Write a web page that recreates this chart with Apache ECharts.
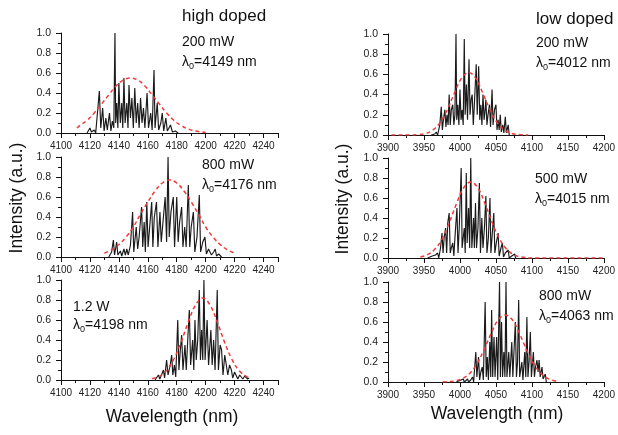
<!DOCTYPE html>
<html><head><meta charset="utf-8">
<script src="https://cdn.jsdelivr.net/npm/echarts@6/dist/echarts.min.js"></script>
<style>html,body{margin:0;padding:0;background:#fff}#c{width:618px;height:435px}</style>
</head><body><div id="c"></div>
<script>
// ---------- tick labels ----------
const highTicks = [4100, 4120, 4140, 4160, 4180, 4200, 4220, 4240];
const lowTicks = [3900, 3950, 4000, 4050, 4100, 4150, 4200];
const yTicks = [0.0, 0.2, 0.4, 0.6, 0.8, 1.0];

// ---------- high doped, 200 mW ----------
const hd200Wl = [4118,4120,4121,4123,4124,4126.5,4127.5,4128.8,4129.8,4131,4132,4133.5,4134.5,4135.5,4136.5,4137.3,4137.8,4138.5,4139.3,4140,4141,4142,4142.7,4143.5,4144.3,4145.5,4146.3,4147,4148,4149,4150,4151,4152,4153,4154,4155,4156,4157,4158,4159.5,4160.5,4162,4163,4164.3,4165,4166.5,4167.5,4169,4170,4171,4172.5,4173.5,4175.7,4177,4179,4181];
const hd200Int = [0,0.05,0.01,0.03,0.0,0.42,0.05,0.25,0.02,0.15,0.03,0.2,0.02,0.12,0.05,1.0,0.1,0.3,0.05,0.5,0.1,0.3,0.05,0.55,0.1,0.3,0.05,0.48,0.15,0.35,0.05,0.45,0.1,0.3,0.05,0.35,0.1,0.25,0.05,0.4,0.05,0.2,0.03,0.63,0.05,0.3,0.03,0.1,0.2,0.02,0.15,0.02,0.08,0.01,0.02,0.0];
const hd200FitWl = [4111,4113,4118,4123,4128,4133,4138,4143,4148,4153,4158,4163,4168,4173,4178,4183,4188,4193,4200];
const hd200FitInt = [0.05,0.074,0.127,0.20,0.29,0.38,0.47,0.53,0.55,0.53,0.47,0.38,0.29,0.20,0.127,0.074,0.04,0.02,0.005];

// ---------- high doped, 800 mW ----------
const hd800Wl = [4133,4135,4136.2,4137,4138.5,4139.3,4141,4142,4143.5,4144.5,4145.5,4146.5,4148,4149.5,4150.3,4152,4153,4154,4155.7,4156.5,4157.5,4158.3,4159.3,4160.2,4161.3,4162.7,4163.5,4164.5,4166,4167,4168.4,4169.3,4170.5,4172,4173,4174,4174.8,4176,4177.6,4178.5,4180,4181,4182,4183.4,4184.3,4185.5,4186.5,4188,4189,4190,4191.5,4192.5,4194,4195.6,4196.5,4198,4199.5,4200.5,4202,4203,4204,4205.5,4206.6,4207.5,4209,4210,4211];
const hd800Int = [0,0.05,0.17,0.02,0.15,0.02,0.06,0.01,0.08,0.02,0.08,0.02,0.12,0.45,0.05,0.3,0.08,0.2,0.5,0.1,0.35,0.05,0.55,0.1,0.3,0.55,0.1,0.4,0.55,0.1,0.45,0.15,0.35,0.6,0.15,1.0,0.2,0.45,0.6,0.1,0.6,0.15,0.35,0.5,0.1,0.3,0.1,0.72,0.1,0.3,0.45,0.05,0.2,0.62,0.05,0.15,0.2,0.03,0.08,0.1,0.02,0.05,0.08,0.01,0.03,0.03,0.0];
const hd800FitWl = [4130,4135,4140,4145,4150,4155,4160,4165,4170,4175,4180,4185,4190,4195,4200,4205,4210,4215,4220];
const hd800FitInt = [0.038,0.072,0.125,0.20,0.30,0.43,0.55,0.66,0.74,0.77,0.74,0.66,0.55,0.43,0.30,0.20,0.125,0.072,0.038];

// ---------- high doped, 1.2 W ----------
const hd1200Wl = [4165,4167.3,4168.3,4170.8,4171.6,4173,4174,4175.5,4176.5,4177.3,4178.4,4179.3,4180.7,4181.5,4182.5,4183.4,4184.3,4185.7,4186.6,4187.6,4188.7,4189.6,4191,4191.8,4192.6,4193.5,4194.5,4195.6,4196.4,4197.2,4198,4198.8,4199.6,4201,4202,4203.6,4204.5,4205.5,4206.5,4208,4208.8,4210,4211,4212,4213.2,4214.4,4215.3,4216.5,4217.8,4218.7,4220,4221.3,4222.2,4223.5,4224.7,4225.7,4227,4228,4229,4230];
const hd1200Int = [0,0.05,0.01,0.1,0.02,0.2,0.05,0.15,0.25,0.05,0.15,0.03,0.6,0.1,0.3,0.45,0.1,0.35,0.1,0.4,0.7,0.15,0.4,0.1,0.6,0.2,0.4,0.9,0.2,0.5,0.2,1.0,0.2,0.6,0.15,0.5,0.15,0.4,0.1,0.9,0.1,0.35,0.3,0.05,0.25,0.25,0.05,0.15,0.1,0.02,0.08,0.08,0.01,0.05,0.05,0.01,0.04,0.05,0.01,0.02];
const hd1200FitWl = [4163,4168,4173,4178,4183,4188,4193,4198,4203,4208,4213,4218,4223,4228,4230];
const hd1200FitInt = [0.012,0.037,0.095,0.21,0.38,0.58,0.75,0.82,0.75,0.58,0.38,0.21,0.095,0.037,0.025];

// ---------- low doped, 200 mW ----------
const ld200Wl = [3960,3965,3967,3969,3972,3974,3975.5,3977,3979,3980.5,3982,3983.5,3985,3986.5,3988,3990,3991.5,3993,3994.5,3995.5,3997,3998.5,4000,4001.5,4003,4004.5,4006,4007.2,4009,4010.5,4012.6,4014,4015.5,4017,4018.5,4020,4022.6,4024,4026,4027.5,4029,4030.5,4032,4033.5,4035,4036,4037.5,4039,4041,4042.5,4044.6,4046,4048,4050,4051.5,4053,4054.5,4056,4057.5,4059.5,4061,4063,4064.5,4067,4068.5];
const ld200Int = [0,0.01,0.03,0.0,0.1,0.28,0.05,0.15,0.25,0.08,0.2,0.1,0.4,0.1,0.25,0.3,0.1,0.2,1.0,0.15,0.3,0.1,0.45,0.15,0.25,0.1,0.95,0.2,0.5,0.15,0.75,0.2,0.35,0.4,0.1,0.3,0.7,0.2,0.68,0.15,0.3,0.1,0.4,0.15,0.25,0.35,0.1,0.2,0.3,0.08,0.45,0.1,0.25,0.3,0.05,0.15,0.05,0.2,0.03,0.1,0.02,0.18,0.02,0.1,0.0];
const ld200FitWl = [3905,3932,3942,3952,3962,3972,3982,3992,4002,4012,4022,4032,4042,4052,4062,4072,4082,4095];
const ld200FitInt = [0.0,0.001,0.004,0.015,0.047,0.12,0.245,0.41,0.56,0.62,0.56,0.41,0.245,0.12,0.047,0.015,0.004,0.0];

// ---------- low doped, 500 mW ----------
const ld500Wl = [3955,3961.5,3963,3966,3969,3970.5,3973,3975,3976.5,3978,3980,3981.5,3983,3985,3986.5,3988,3990,3991.5,3993,3995.8,3997.3,3999,4001.7,4003,4004.5,4006,4007.3,4008.8,4010,4012,4013.5,4015,4016.5,4018.9,4020,4021.6,4023,4025,4027,4028.5,4030.4,4032,4034,4036,4037.5,4039.5,4041.7,4043,4045,4047,4048.5,4050.5,4053,4054.5,4057,4059,4060.5,4063,4067,4068.5,4072,4076,4077.5];
const ld500Int = [0,0.02,0.0,0.03,0.05,0.0,0.1,0.25,0.05,0.2,0.3,0.05,0.35,0.45,0.05,0.1,0.15,0.02,0.2,0.5,0.05,0.3,0.9,0.1,0.2,0.3,0.05,0.85,0.15,0.5,0.1,1.0,0.1,0.4,0.1,0.55,0.1,0.3,0.75,0.05,0.4,0.1,0.3,0.62,0.05,0.2,0.6,0.05,0.25,0.45,0.05,0.15,0.25,0.02,0.1,0.15,0.01,0.05,0.08,0.0,0.02,0.04,0.0];
const ld500FitWl = [3945,3955,3965,3975,3985,3995,4005,4015,4025,4035,4045,4055,4065,4075,4085,4100,4200];
const ld500FitInt = [0.011,0.033,0.087,0.19,0.35,0.54,0.70,0.76,0.70,0.54,0.35,0.19,0.087,0.033,0.01,0.0,0.0];

// ---------- low doped, 800 mW ----------
const ld800Wl = [3995,4004.6,4006,4008,4010.6,4012,4015,4017.5,4019,4022,4023.5,4025.8,4027.3,4029,4031,4032.5,4035,4036.5,4038,4039.5,4041.5,4042.8,4044,4045.5,4047.3,4048.8,4051,4052.5,4055,4056.2,4057.8,4059.2,4061,4062.5,4064,4065.3,4067.8,4069.3,4072,4073.5,4075,4077,4078.5,4080,4081.6,4083,4086,4087.5,4090,4091.5,4093,4094.5,4096,4097.8,4099.3,4102,4103.5,4105,4107,4108.5,4110,4111.5,4114,4115.5,4118.6,4120];
const ld800Int = [0,0.03,0.0,0.02,0.03,0.0,0.02,0.05,0.0,0.3,0.05,0.25,0.02,0.1,0.15,0.02,0.8,0.05,0.25,0.02,0.4,0.05,0.72,0.05,0.45,0.05,0.45,0.02,1.0,0.05,0.6,0.05,0.3,0.05,1.0,0.05,0.3,0.05,0.4,0.05,0.3,0.6,0.05,0.2,0.82,0.05,0.2,0.02,0.3,0.05,0.65,0.05,0.2,0.5,0.05,0.3,0.05,0.15,0.22,0.1,0.22,0.05,0.15,0.03,0.08,0.0];
const ld800FitWl = [3976,3983,3993,4003,4013,4023,4033,4043,4053,4063,4073,4083,4093,4103,4113,4123,4134];
const ld800FitInt = [0.0,0.003,0.011,0.032,0.082,0.175,0.315,0.48,0.62,0.67,0.62,0.48,0.315,0.175,0.082,0.032,0.008];

// ---------- panel annotations ----------
const headings = ['high doped', 'low doped'];
const powers = ['200 mW', '800 mW', '1.2 W', '200 mW', '500 mW', '800 mW'];
const centers = ['4149', '4176', '4198', '4012', '4015', '4063'];
const xTitle = 'Wavelength (nm)';
const yTitle = 'Intensity (a.u.)';

// ---------- layout ----------
const FONT = '"Liberation Sans", Arial, sans-serif';
const spectra = [
  [hd200Wl, hd200Int, hd200FitWl, hd200FitInt],
  [hd800Wl, hd800Int, hd800FitWl, hd800FitInt],
  [hd1200Wl, hd1200Int, hd1200FitWl, hd1200FitInt],
  [ld200Wl, ld200Int, ld200FitWl, ld200FitInt],
  [ld500Wl, ld500Int, ld500FitWl, ld500FitInt],
  [ld800Wl, ld800Int, ld800FitWl, ld800FitInt]
];
const gridBoxes = [
  {left: 61, top: 33, width: 217, height: 100},
  {left: 61, top: 157, width: 217, height: 100},
  {left: 61, top: 280, width: 217, height: 100},
  {left: 388, top: 34, width: 218, height: 101},
  {left: 388, top: 158, width: 218, height: 100},
  {left: 388, top: 282, width: 218, height: 100}
];
const labelPos = [
  [182, 42, 182, 62], [202, 165, 202, 185], [73, 307, 73, 325],
  [536, 43, 536, 63], [535, 179, 535, 199], [539, 296, 539, 316]
];

const zip = (a, b) => a.map((v, i) => [v, b[i]]);
const axisLineStyle = {show: true, lineStyle: {color: '#111', width: 1}};

const grids = [], xAxes = [], yAxes = [], series = [], graphics = [];
gridBoxes.forEach((g, i) => {
  grids.push(Object.assign({containLabel: false}, g));
  const high = i < 3;
  const ticks = high ? highTicks : lowTicks;
  xAxes.push({
    type: 'value', gridIndex: i,
    min: ticks[0], max: high ? 4250 : 4200, interval: ticks[1] - ticks[0],
    axisLine: axisLineStyle,
    axisTick: {show: true, length: 5, lineStyle: {color: '#111'}},
    minorTick: {show: true, splitNumber: 2, length: 3, lineStyle: {color: '#111'}},
    splitLine: {show: false},
    axisLabel: {color: '#222', fontSize: 10, fontFamily: FONT, margin: 8, hideOverlap: false,
      showMinLabel: true, showMaxLabel: !high,
      formatter: v => (ticks.indexOf(v) >= 0 ? String(v) : '')}
  });
  yAxes.push({
    type: 'value', gridIndex: i, min: yTicks[0], max: yTicks[yTicks.length - 1], interval: 0.2,
    axisLine: axisLineStyle,
    axisTick: {show: true, length: 5, lineStyle: {color: '#111'}},
    minorTick: {show: true, splitNumber: 2, length: 3, lineStyle: {color: '#111'}},
    splitLine: {show: false},
    axisLabel: {color: '#222', fontSize: 10.5, fontFamily: FONT, margin: 10, hideOverlap: false,
      showMinLabel: true, showMaxLabel: true, formatter: v => v.toFixed(1)}
  });
  const s = spectra[i];
  series.push({
    type: 'line', xAxisIndex: i, yAxisIndex: i, data: zip(s[0], s[1]),
    showSymbol: false, lineStyle: {color: '#1a1a1a', width: 1.15}, z: 2, animation: false
  });
  series.push({
    type: 'line', xAxisIndex: i, yAxisIndex: i, data: zip(s[2], s[3]), smooth: 0.4,
    showSymbol: false, lineStyle: {color: '#f03a3a', width: 1.5, type: [4, 3]}, z: 3, animation: false
  });
  const p = labelPos[i];
  graphics.push({type: 'text', x: p[0], y: p[1], style: {text: powers[i], fill: '#111',
    font: '14px ' + FONT, verticalAlign: 'middle', align: 'left'}});
  graphics.push({type: 'text', x: p[2], y: p[3], style: {
    text: '{l|λ}{s|0}{l|=' + centers[i] + ' nm}', fill: '#111', verticalAlign: 'middle', align: 'left',
    rich: {
      l: {fontSize: 14, fontFamily: FONT, lineHeight: 18, verticalAlign: 'middle', fill: '#111'},
      s: {fontSize: 9, fontFamily: FONT, lineHeight: 9, verticalAlign: 'bottom', fill: '#111'}
    }}});
});
graphics.push({type: 'text', x: 182, y: 16, style: {text: headings[0], fill: '#111', font: '17px ' + FONT, verticalAlign: 'middle'}});
graphics.push({type: 'text', x: 536, y: 19, style: {text: headings[1], fill: '#111', font: '17px ' + FONT, verticalAlign: 'middle'}});
graphics.push({type: 'text', x: 172, y: 417, style: {text: xTitle, fill: '#111', font: '17.5px ' + FONT, align: 'center', verticalAlign: 'middle'}});
graphics.push({type: 'text', x: 497, y: 414, style: {text: xTitle, fill: '#111', font: '17.5px ' + FONT, align: 'center', verticalAlign: 'middle'}});
graphics.push({type: 'text', x: 17, y: 198, rotation: Math.PI / 2, style: {text: yTitle, fill: '#111', font: '17.5px ' + FONT, align: 'center', verticalAlign: 'middle'}});
graphics.push({type: 'text', x: 343, y: 199, rotation: Math.PI / 2, style: {text: yTitle, fill: '#111', font: '17.5px ' + FONT, align: 'center', verticalAlign: 'middle'}});

const chart = echarts.init(document.getElementById('c'), null, {renderer: 'canvas'});
chart.setOption({
  backgroundColor: '#fff', animation: false,
  grid: grids, xAxis: xAxes, yAxis: yAxes, series: series, graphic: graphics
});
</script></body></html>
